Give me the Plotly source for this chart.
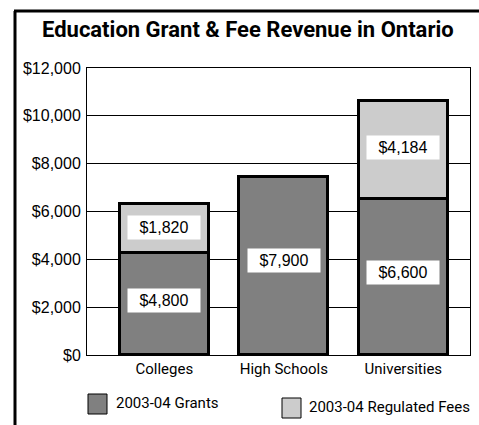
import plotly.graph_objects as go

categories = ["Colleges", "High Schools", "Universities"]
grants = [4270, 7440, 6530]          # bar heights as drawn
fees = [2030, 0, 4110]               # bar heights as drawn
grant_labels = ["$4,800", "$7,900", "$6,600"]
fee_labels = ["$1,820", None, "$4,184"]
y_ticks = [0, 2000, 4000, 6000, 8000, 10000, 12000]

title_text = "Education Grant & Fee Revenue in Ontario"
legend_names = ["2003-04 Grants", "2003-04 Regulated Fees"]

DARK = "#808080"
LIGHT = "#cccccc"
NARROW = "Roboto, Liberation Sans, sans-serif"
ARIAL = "Liberation Sans, Arial, sans-serif"

W, H = 479, 425
L, R, T, B = 87, 9, 68, 70
pw, ph = W - L - R, H - T - B

def px(x):
    return (x - L) / pw

def py(y):
    return (H - B - y) / ph

fig = go.Figure()
fig.add_trace(go.Bar(x=categories, y=grants, name=legend_names[0], width=0.745,
                     marker=dict(color=DARK, line=dict(color="black", width=3)),
                     showlegend=False))
fig.add_trace(go.Bar(x=categories, y=fees, name=legend_names[1], width=0.745,
                     marker=dict(color=LIGHT, line=dict(color="black", width=3)),
                     showlegend=False))

annotations = []
for i, cat in enumerate(categories):
    annotations.append(dict(x=cat, y=grants[i] * 0.53, xref="x", yref="y",
                            text=grant_labels[i], showarrow=False,
                            bgcolor="white", width=70, height=21,
                            font=dict(family=ARIAL, size=16, color="black")))
    if fee_labels[i]:
        annotations.append(dict(x=cat, y=grants[i] + fees[i] * 0.52, xref="x", yref="y",
                                text=fee_labels[i], showarrow=False,
                                bgcolor="white", width=70, height=21,
                                font=dict(family=ARIAL, size=16, color="black")))

# title
annotations.append(dict(x=px(247.5), y=py(30), xref="paper", yref="paper",
                        text="<b>" + title_text + "</b>", showarrow=False,
                        xanchor="center", yanchor="middle",
                        font=dict(family=NARROW, size=22, color="black")))

# legend
shapes = []
leg = [(88, 107, 394, 414, DARK, 114, 403), (282, 301, 398, 418, LIGHT, 307, 407)]
for (x0, x1, y0, y1, col, tx, ty), name in zip(leg, legend_names):
    shapes.append(dict(type="rect", xref="paper", yref="paper",
                       x0=px(x0), x1=px(x1), y0=py(y1), y1=py(y0),
                       fillcolor=col, line=dict(color="black", width=1)))
    annotations.append(dict(x=px(tx), y=py(ty), xref="paper", yref="paper",
                            text=name, showarrow=False, xanchor="left", yanchor="middle",
                            font=dict(family=NARROW, size=15, color="black")))

# outer frame (left and top lines)
shapes.append(dict(type="line", xref="paper", yref="paper",
                   x0=px(15), x1=px(15), y0=py(11), y1=py(440),
                   line=dict(color="black", width=3)))
shapes.append(dict(type="line", xref="paper", yref="paper",
                   x0=px(14), x1=px(490), y0=py(11), y1=py(11),
                   line=dict(color="black", width=3)))

fig.update_layout(
    width=W, height=H,
    margin=dict(l=L, r=R, t=T, b=B, pad=0),
    barmode="stack",
    bargap=0,
    plot_bgcolor="white", paper_bgcolor="white",
    annotations=annotations,
    shapes=shapes,
    showlegend=False,
)
fig.update_xaxes(range=[-0.647, 2.558], showline=True, mirror=True, linecolor="black",
                 linewidth=1, showgrid=False, ticks="",
                 tickfont=dict(family=NARROW, size=15, color="black"))
fig.update_yaxes(range=[0, 12000], tickvals=y_ticks,
                 ticktext=["${:,}".format(v) for v in y_ticks],
                 showline=True, mirror=True, linecolor="black", linewidth=1,
                 showgrid=True, gridcolor="black", gridwidth=1, zeroline=False,
                 ticks="", ticklabelstandoff=2,
                 tickfont=dict(family=ARIAL, size=16, color="black"))

fig.write_html("out.html", config={"displayModeBar": False},
               post_script="document.body.style.margin='0';document.body.style.overflow='hidden';")
